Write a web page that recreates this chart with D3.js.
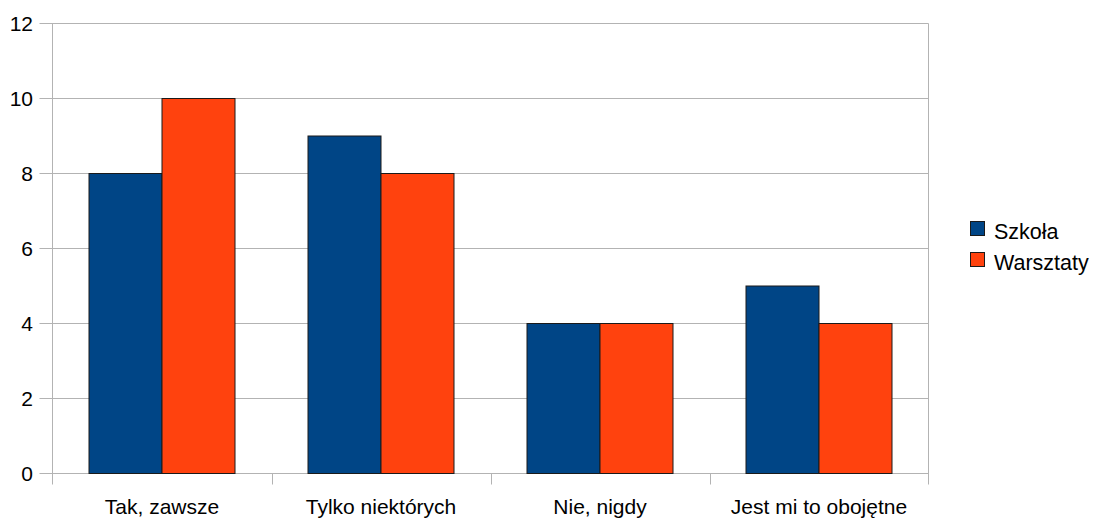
<!DOCTYPE html>
<html><head><meta charset="utf-8">
<script src="https://cdn.jsdelivr.net/npm/d3@7/dist/d3.min.js"></script>
<style>body{margin:0;background:#fff;} text{font-family:"Liberation Sans",Arial,sans-serif;fill:#000;}</style>
</head><body><svg id="c" width="1096" height="518"></svg>
<script>
const categories = ["Tak, zawsze", "Tylko niektórych", "Nie, nigdy", "Jest mi to obojętne"];
const seriesNames = ["Szkoła", "Warsztaty"];
const szkola = [8, 9, 4, 5];
const warsztaty = [10, 8, 4, 4];
const yTicks = [0, 2, 4, 6, 8, 10, 12];
const colors = ["#004586", "#ff420e"];

const svg = d3.select("#c");
const L = 52.5, R = 928.5, T = 23.5, B = 473.5;
const x = d3.scaleBand().domain(categories).range([L, R]).paddingInner(1/3).paddingOuter(1/6);
const xs = d3.scaleBand().domain(seriesNames).range([0, x.bandwidth()]);
const y = d3.scaleLinear().domain([0, 12]).range([B, T]);

// gridlines
svg.append("g").selectAll("line").data(yTicks).join("line")
  .attr("x1", L - 13).attr("x2", R).attr("y1", d => y(d)).attr("y2", d => y(d))
  .attr("stroke", "#b3b3b3").attr("stroke-width", 1);
// y tick labels
svg.append("g").selectAll("text").data(yTicks).join("text")
  .attr("x", 33).attr("y", d => y(d)).attr("dy", "0.36em").attr("text-anchor", "end")
  .attr("font-size", 21).text(d => d);
// axis lines
svg.append("line").attr("x1", L).attr("x2", L).attr("y1", T).attr("y2", B + 11).attr("stroke", "#b3b3b3");
svg.append("line").attr("x1", R).attr("x2", R).attr("y1", T).attr("y2", B + 11).attr("stroke", "#b3b3b3");
// category ticks
const bounds = categories.slice(1).map(c => x(c) - x.step() * x.paddingInner() / 2);
svg.append("g").selectAll("line").data(bounds).join("line")
  .attr("x1", d => Math.round(d) + 0.5).attr("x2", d => Math.round(d) + 0.5).attr("y1", B).attr("y2", B + 11)
  .attr("stroke", "#b3b3b3");

// bars
const data = categories.map((c, i) => ({c, vals: [szkola[i], warsztaty[i]]}));
const g = svg.append("g").selectAll("g").data(data).join("g").attr("transform", d => `translate(${x(d.c)},0)`);
g.selectAll("rect").data(d => d.vals.map((v, j) => ({v, s: seriesNames[j], j}))).join("rect")
  .attr("x", d => xs(d.s)).attr("width", xs.bandwidth())
  .attr("y", d => y(d.v)).attr("height", d => y(0) - y(d.v))
  .attr("fill", d => colors[d.j]).attr("stroke", "#1a1a1a").attr("stroke-width", 1);

// category labels
svg.append("g").selectAll("text").data(categories).join("text")
  .attr("x", d => x(d) + x.bandwidth() / 2).attr("y", 514).attr("text-anchor", "middle")
  .attr("font-size", 21).text(d => d);

// legend
const lg = svg.append("g").selectAll("g").data(seriesNames).join("g")
  .attr("transform", (d, i) => `translate(970,${221 + i * 31})`);
lg.append("rect").attr("x", 0.5).attr("y", 0.5).attr("width", 14).attr("height", 14)
  .attr("fill", (d, i) => colors[i]).attr("stroke", "#1a1a1a");
lg.append("text").attr("x", 24).attr("y", 17.5).attr("font-size", 21.5).text(d => d);
</script></body></html>
